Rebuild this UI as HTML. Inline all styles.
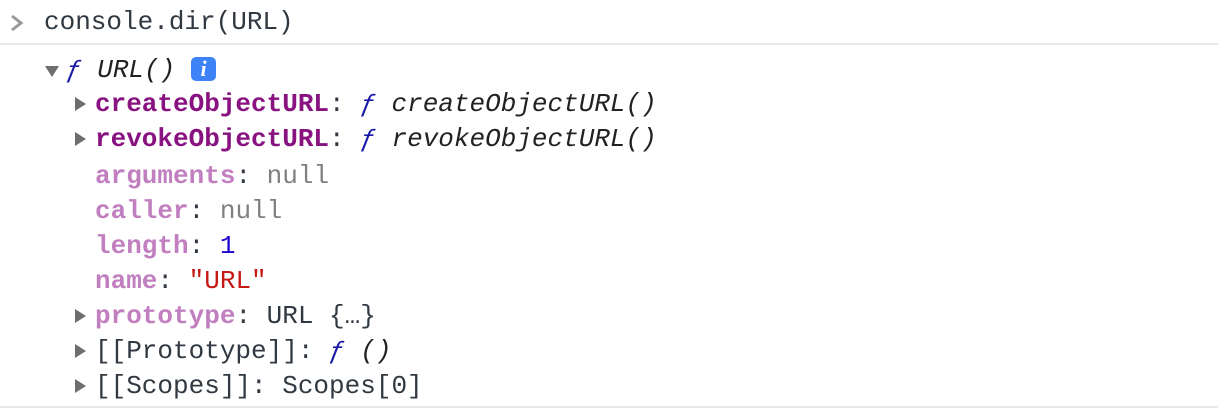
<!DOCTYPE html>
<html><head><style>
body{margin:0;width:1218px;height:410px;background:#fff;position:relative;overflow:hidden;font-family:"Liberation Mono",monospace;font-size:26px;}
.l{position:absolute;white-space:pre;line-height:34px;height:34px;}
.k{color:#881280;font-weight:bold}
.kd{color:#c17fc0;font-weight:bold}
.g{color:#303942}
.f{color:#1a1aa6;font-style:italic}
.i{font-style:italic;color:#222}
.n{color:#808080}
.num{color:#1c00cf}
.s{color:#c41a16}
.tri{position:absolute;width:0;height:0;border-top:7px solid transparent;border-bottom:7px solid transparent;border-left:11px solid #6e6e6e;}
</style></head><body>
<svg style="position:absolute;left:8px;top:12px" width="16" height="22"><polyline points="4,4 13,11 4,18" fill="none" stroke="#999" stroke-width="3"/></svg>
<div class="l g" style="left:44px;top:5px">console.dir(URL)</div>
<div style="position:absolute;left:0;top:43px;width:1218px;height:2px;background:#e8e8e8"></div>
<div style="position:absolute;left:45px;top:66px;width:0;height:0;border-left:7px solid transparent;border-right:7px solid transparent;border-top:11px solid #6e6e6e"></div>
<div class="l" style="left:66px;top:53px"><span class="f">ƒ</span> <span class="i">URL()</span></div>
<div style="position:absolute;left:191px;top:57px;width:25px;height:24px;background:#3e82f7;border-radius:5px;color:#fff;font-style:italic;font-weight:bold;font-size:22px;text-align:center;line-height:24px;font-family:'Liberation Serif',serif">i</div>
<div class="tri" style="left:75px;top:97px"></div>
<div class="l" style="left:95px;top:87px"><span class="k">createObjectURL</span><span class="g">: </span><span class="f">ƒ</span> <span class="i">createObjectURL()</span></div>
<div class="tri" style="left:75px;top:132px"></div>
<div class="l" style="left:95px;top:122px"><span class="k">revokeObjectURL</span><span class="g">: </span><span class="f">ƒ</span> <span class="i">revokeObjectURL()</span></div>
<div class="l" style="left:95px;top:159px"><span class="kd">arguments</span><span class="g">: </span><span class="n">null</span></div>
<div class="l" style="left:95px;top:194px"><span class="kd">caller</span><span class="g">: </span><span class="n">null</span></div>
<div class="l" style="left:95px;top:229px"><span class="kd">length</span><span class="g">: </span><span class="num">1</span></div>
<div class="l" style="left:95px;top:264px"><span class="kd">name</span><span class="g">: </span><span class="s">"URL"</span></div>
<div class="tri" style="left:75px;top:309px"></div>
<div class="l" style="left:95px;top:299px"><span class="kd">prototype</span><span class="g">: URL {…}</span></div>
<div class="tri" style="left:75px;top:344px"></div>
<div class="l" style="left:95px;top:334px"><span class="g">[[Prototype]]: </span><span class="f">ƒ</span> <span class="i">()</span></div>
<div class="tri" style="left:75px;top:379px"></div>
<div class="l" style="left:95px;top:369px"><span class="g">[[Scopes]]: Scopes[0]</span></div>
<div style="position:absolute;left:0;top:406px;width:1218px;height:2px;background:#e8e8e8"></div>
</body></html>
